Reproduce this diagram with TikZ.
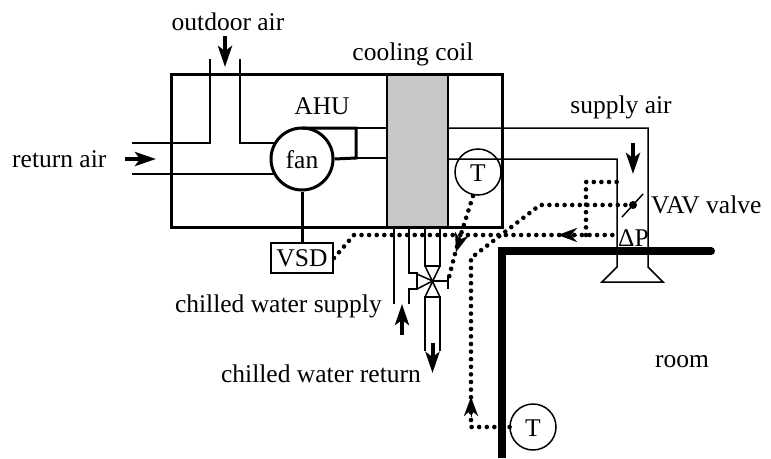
\documentclass[tikz,border=0pt]{standalone}
\usepackage{fontspec}
\setmainfont{Liberation Serif}
\usetikzlibrary{arrows.meta}
\tikzset{
  lab/.style={inner sep=0pt,anchor=base,font=\fontsize{25.5}{28}\selectfont},
  labin/.style={inner sep=0pt,font=\fontsize{25.5}{28}\selectfont},
  thin duct/.style={line width=1.5pt},
  thick line/.style={line width=3pt},
  dots/.style={line width=4.6pt,line cap=round,dash pattern=on 0pt off 7.6pt},
  flow/.style={line width=4pt,-{Stealth[length=21pt,width=14pt,inset=5pt]}},
  sensorhead/.style={-{Stealth[length=19pt,width=14pt,inset=6pt]},line width=0.1pt},
  round box/.style={circle,draw,inner sep=0pt},
}
\begin{document}
\begin{tikzpicture}[x=1pt,y=-1pt]
\useasboundingbox (0,0) rectangle (771,458);
% coil and cabinet
\node[draw=black,line width=2.5pt,fill=black!22,minimum width=61pt,minimum height=153pt,inner sep=0pt] (coil) at (417.5,150.5) {};
\node[draw,thick line,minimum width=331pt,minimum height=153pt,inner sep=0pt] (ahu) at (336.5,150.5) {};
% fan and sensors
\node[round box,thick line,fill=white,minimum size=62pt] (fan) at (302,159) {};
\node[round box,thin duct,minimum size=46pt] (t1) at (478,172) {};
\node[round box,thin duct,minimum size=46pt] (t2) at (533,427) {};
\node[draw,line width=2pt,minimum width=62pt,minimum height=30pt,inner sep=0pt] (vsd) at (302,258) {};
% ducts
\draw[thin duct] (210,59) -- (210,143) -- (132,143);
\draw[thin duct] (240,59) -- (240,143) -- (275,143);
\draw[thin duct] (132,174) -- (275,174);
\draw[thin duct] (356,128) -- (387,128);
\draw[thin duct] (356,158) -- (387,158);
\draw[thin duct] (448,128) -- (648,128) -- (648,267) -- (663,282) -- (602,282) -- (617,267) -- (617,159) -- (448,159);
% fan outlet and drive
\draw[thick line,line join=miter] (302,128) -- (356,128) -- (356,158) -- (fan.east);
\draw[thick line] (fan.south) -- (vsd.north);
% water pipes and valve
\coordinate (vc) at (432.5,281);
\draw[thin duct] (394,227) -- (394,304);
\draw[thin duct] (409,227) -- (409,273) -- (417,273) -- (417,289) -- (409,289) -- (409,304);
\draw[thin duct] (417,274) -- (vc) -- (417,289);
\draw[thin duct] (425,227) -- (425,266) -- (440,266) -- (440,227);
\draw[thin duct] (425,266) -- (440,297) (440,266) -- (425,297);
\draw[thin duct] (425,351) -- (425,297) -- (440,297) -- (440,351);
\coordinate (act) at (448,281);
\draw[thin duct] (vc) -- (act);
\draw[thin duct] (448,275) -- (448,289);
% flow arrows
\draw[flow] (125,159) -- (156,159);
\draw[flow] (225,36) -- (225,67);
\draw[flow] (633,143) -- (633,174);
\draw[flow] (402,335) -- (402,304);
\draw[flow] (432.5,343) -- (432.5,373);
% VAV valve
\coordinate (vav) at (633,205);
\draw[thin duct] (622,217) -- (643,194);
\fill (vav) circle (4pt);
% control lines
\coordinate (dp) at (616,235);
\coordinate (dpa) at (620,182);
\coordinate (dpb) at (586,182);
\coordinate (dpc) at (586,235);
\draw[dots] (vsd.east) -- (354,235) -- (dp);
\draw[dots] (dpc) -- (dpb) -- (dpa);
\draw[dots] (vav) -- (540,205) -- (471,258) -- (471,427) -- (517,427);
\draw[dots] (473,196) -- (456,250) -- (act);
\draw[sensorhead] (462,233) -- (456,252);
\draw[sensorhead] (577,235) -- (558,235);
\draw[sensorhead] (471,417) -- (471,397);
% wall
\draw[line width=8pt,line cap=round,line join=miter] (711,251) -- (502,251);
\draw[line width=8pt] (502,247) -- (502,458);
% labels
\node[lab] (l0) at (fan.center |- 0,168) {fan};
\node[lab] (lt1) at (478,181) {T};
\node[lab] (lt2) at (533,436) {T};
\node[lab] (lv) at (302,266) {VSD};
\node[lab] (l1) at (228,30) {outdoor air};
\node[lab] (l2) at (413,60) {cooling coil};
\node[lab] (l3) at (322,114) {AHU};
\node[lab,anchor=base west] (l4) at (12,167) {return air};
\node[lab] (l5) at (621,113) {supply air};
\node[lab,anchor=base west] (l6) at (651,213) {VAV valve};
\node[lab,anchor=base west] (l7) at (618,246) {ΔP};
\node[lab,anchor=base east] (l8) at (382,312) {chilled water supply};
\node[lab,anchor=base east] (l9) at (421,382) {chilled water return};
\node[lab] (l10) at (682,367) {room};
\end{tikzpicture}
\end{document}
